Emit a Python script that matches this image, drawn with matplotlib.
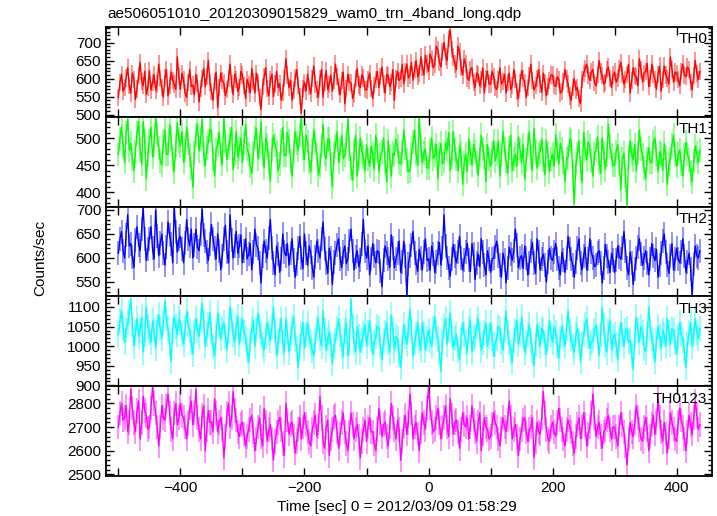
import numpy as np
import matplotlib
matplotlib.use('Agg')
import matplotlib.pyplot as plt
from matplotlib.ticker import MultipleLocator, FuncFormatter

plt.rcParams['font.family'] = ['Liberation Sans', 'DejaVu Sans']

#Light curve data, 2.5 sec bins
T_START = -500
T_BIN = 2.5

th0 = [548, 590, 612, 565, 575, 602, 630, 580, 560, 615, 598, 542, 571, 608, 645, 592, 580, 620, 556, 575,
       622, 568, 590, 610, 568, 585, 640, 600, 575, 548, 603, 625, 552, 580, 618, 595, 585, 570, 660, 605,
       570, 615, 596, 560, 548, 590, 625, 578, 582, 555, 610, 588, 535, 572, 600, 628, 578, 605, 650, 590,
       565, 540, 592, 618, 520, 575, 615, 595, 588, 552, 570, 600, 640, 585, 556, 612, 598, 565, 575, 620,
       610, 580, 545, 598, 583, 560, 628, 592, 560, 615, 590, 548, 515, 578, 605, 630, 572, 552, 598, 612,
       550, 585, 620, 575, 586, 540, 562, 600, 655, 610, 575, 595, 540, 568, 602, 625, 580, 550, 505, 572,
       590, 565, 612, 578, 558, 600, 635, 585, 570, 548, 600, 625, 548, 590, 622, 570, 584, 610, 565, 595,
       640, 605, 578, 555, 595, 618, 530, 572, 612, 590, 588, 545, 560, 600, 628, 582, 575, 610, 602, 570,
       568, 598, 615, 572, 545, 580, 598, 620, 575, 605, 632, 585, 560, 612, 608, 578, 590, 625, 540, 600,
       620, 595, 600, 640, 585, 618, 640, 602, 610, 645, 595, 625, 650, 605, 615, 660, 630, 610, 665, 640,
       620, 668, 655, 630, 640, 690, 680, 645, 632, 675, 700, 662, 650, 712, 735, 680, 660, 640, 625, 690,
       675, 630, 610, 655, 640, 602, 595, 625, 630, 590, 575, 615, 612, 580, 598, 630, 560, 600, 620, 585,
       585, 620, 605, 575, 570, 598, 630, 585, 592, 612, 560, 590, 615, 570, 580, 625, 598, 565, 545, 588,
       622, 600, 590, 548, 575, 608, 640, 595, 568, 580, 600, 625, 585, 562, 615, 590, 552, 578, 595, 610,
       610, 582, 578, 605, 598, 560, 565, 592, 625, 600, 585, 552, 540, 575, 600, 568, 575, 545, 530, 598,
       615, 628, 640, 610, 595, 618, 625, 590, 580, 612, 650, 620, 608, 585, 590, 625, 632, 600, 575, 610,
       618, 590, 600, 628, 645, 612, 585, 598, 612, 640, 560, 595, 630, 608, 605, 580, 655, 625, 590, 615,
       620, 642, 578, 600, 640, 612, 598, 570, 612, 635, 565, 598, 635, 610, 600, 585, 660, 625, 590, 618,
       615, 598, 580, 620, 640, 610, 605, 632, 625, 590, 570, 608, 650, 615, 598, 620]

th1 = [470, 498, 520, 485, 455, 510, 535, 478, 490, 462, 440, 475, 510, 530, 478, 452, 530, 495, 425, 468,
       495, 520, 465, 488, 540, 505, 482, 458, 450, 492, 515, 470, 470, 525, 500, 462, 438, 485, 528, 495,
       485, 512, 455, 478, 520, 490, 468, 445, 410, 472, 505, 525, 476, 498, 535, 470, 448, 482, 492, 515,
       515, 462, 430, 478, 488, 510, 470, 452, 538, 495, 460, 485, 498, 520, 442, 470, 512, 465, 480, 500,
       455, 490, 525, 480, 470, 448, 435, 472, 500, 518, 462, 485, 530, 470, 445, 500, 488, 455, 420, 478,
       505, 488, 475, 440, 452, 492, 520, 468, 468, 510, 495, 458, 430, 475, 512, 490, 478, 505, 540, 482,
       460, 505, 492, 455, 438, 478, 515, 490, 470, 432, 448, 485, 525, 470, 462, 498, 498, 452, 410, 470,
       485, 512, 455, 478, 505, 462, 468, 490, 535, 480, 445, 422, 478, 505, 430, 462, 500, 475, 465, 440,
       488, 462, 448, 485, 470, 442, 505, 478, 438, 468, 475, 500, 455, 420, 495, 465, 430, 472, 468, 498,
       485, 455, 452, 475, 515, 482, 460, 438, 440, 470, 492, 515, 470, 450, 538, 488, 455, 472, 480, 445,
       445, 478, 500, 462, 468, 488, 425, 470, 490, 452, 458, 492, 478, 510, 440, 465, 512, 478, 462, 440,
       485, 470, 415, 455, 470, 438, 498, 472, 450, 488, 475, 455, 432, 468, 505, 480, 465, 420, 488, 462,
       448, 472, 495, 458, 470, 495, 430, 468, 512, 480, 458, 435, 482, 505, 440, 462, 470, 448, 502, 478,
       455, 488, 425, 460, 488, 512, 465, 440, 518, 475, 445, 468, 475, 498, 460, 432, 495, 470, 438, 462,
       470, 448, 505, 478, 452, 490, 480, 455, 420, 462, 465, 498, 495, 440, 378, 452, 470, 495, 445, 418,
       510, 478, 460, 492, 485, 458, 430, 470, 478, 502, 455, 435, 500, 472, 442, 468, 525, 485, 468, 450,
       450, 475, 488, 455, 405, 462, 472, 430, 376, 465, 495, 470, 460, 488, 440, 472, 515, 480, 468, 445,
       425, 462, 482, 455, 455, 492, 500, 468, 438, 475, 470, 440, 490, 465, 415, 450, 462, 488, 505, 470,
       448, 470, 478, 452, 430, 468, 492, 470, 460, 435, 420, 458, 485, 472, 455, 478]

th2 = [610, 640, 655, 615, 600, 648, 690, 625, 630, 602, 580, 638, 665, 628, 615, 660, 705, 640, 595, 618,
       640, 665, 620, 598, 700, 645, 605, 632, 650, 610, 585, 622, 675, 648, 630, 590, 708, 655, 612, 640,
       645, 618, 590, 632, 680, 640, 625, 660, 600, 628, 660, 622, 615, 650, 702, 648, 635, 612, 595, 630,
       670, 640, 620, 598, 650, 615, 575, 605, 640, 668, 612, 590, 690, 638, 600, 625, 655, 610, 625, 648,
       590, 615, 640, 598, 608, 630, 575, 612, 660, 628, 620, 590, 548, 605, 635, 615, 600, 642, 680, 620,
       590, 565, 625, 608, 570, 598, 650, 612, 605, 630, 585, 610, 640, 595, 560, 588, 620, 645, 600, 578,
       650, 610, 585, 625, 612, 580, 560, 602, 635, 615, 600, 640, 675, 618, 590, 568, 620, 600, 545, 592,
       610, 628, 640, 598, 580, 612, 625, 588, 598, 635, 660, 615, 575, 602, 615, 582, 595, 630, 680, 615,
       600, 625, 565, 598, 630, 605, 590, 615, 612, 572, 540, 595, 625, 610, 598, 580, 648, 620, 580, 598,
       610, 635, 570, 592, 635, 605, 520, 588, 605, 628, 655, 610, 590, 572, 618, 600, 575, 612, 640, 595,
       598, 575, 625, 608, 570, 592, 610, 632, 585, 620, 690, 625, 600, 580, 562, 598, 628, 605, 590, 612,
       645, 600, 575, 595, 612, 630, 595, 572, 630, 608, 555, 590, 608, 582, 640, 612, 585, 565, 615, 598,
       570, 598, 600, 622, 635, 605, 585, 560, 610, 595, 548, 580, 622, 608, 595, 615, 660, 628, 580, 600,
       605, 578, 625, 600, 565, 590, 615, 632, 590, 568, 640, 612, 575, 598, 608, 585, 550, 592, 620, 600,
       595, 612, 630, 598, 580, 565, 612, 595, 570, 600, 645, 618, 598, 585, 560, 592, 620, 640, 590, 575,
       605, 622, 575, 598, 640, 612, 600, 582, 585, 610, 615, 590, 548, 580, 628, 605, 592, 570, 610, 595,
       570, 595, 625, 602, 598, 620, 655, 615, 580, 565, 612, 590, 545, 578, 600, 622, 640, 608, 585, 600,
       615, 590, 565, 598, 630, 605, 595, 618, 560, 585, 610, 635, 650, 612, 585, 568, 605, 630, 575, 598,
       620, 598, 590, 612, 640, 605, 570, 592, 610, 578, 520, 588, 625, 605, 600, 615]

th3 = [1030, 1065, 1090, 1045, 1010, 1040, 1060, 1085, 1120, 1055, 1000, 1035, 1070, 1025, 1040, 1075, 985, 1030, 1100, 1050,
       1035, 1010, 1065, 1040, 995, 1050, 1080, 1045, 1020, 1060, 1115, 1070, 1045, 1005, 960, 1040, 1075, 1050, 1030, 1070,
       1060, 1030, 1005, 1045, 1090, 1055, 1040, 1010, 980, 1035, 1070, 1040, 1025, 1065, 1110, 1060, 1000, 1030, 1055, 1085,
       1035, 1000, 975, 1025, 1085, 1050, 1020, 1045, 1060, 1025, 990, 1040, 1100, 1065, 1030, 1010, 1050, 1075, 1005, 1040,
       1070, 1035, 1020, 990, 960, 1010, 1045, 1065, 1000, 1040, 1085, 1050, 1030, 1005, 990, 1025, 1060, 1035, 1015, 1050,
       1100, 1040, 975, 1010, 1040, 1070, 1010, 985, 1070, 1035, 985, 1020, 1050, 1075, 1020, 995, 945, 1000, 1030, 1060,
       995, 1030, 1060, 1025, 1010, 990, 975, 1015, 1045, 1070, 1020, 1000, 1090, 1040, 990, 1020, 1035, 1005, 955, 1000,
       1015, 1045, 1070, 1030, 1000, 975, 1040, 1060, 975, 1010, 1120, 1050, 1010, 985, 1050, 1025, 985, 1015, 1030, 1055,
       1000, 1035, 1065, 1020, 980, 1010, 1025, 1050, 1045, 1000, 965, 1015, 1035, 1060, 1010, 985, 1080, 1040, 990, 1025,
       1020, 980, 945, 1000, 1055, 1025, 1005, 1040, 1095, 1045, 975, 1010, 1030, 1060, 1015, 990, 1060, 1030, 990, 1020,
       1040, 1015, 1000, 1045, 1075, 1035, 1020, 985, 935, 1010, 1050, 1070, 1005, 1040, 1085, 1030, 995, 1020, 1030, 990,
       965, 1015, 1060, 1030, 1010, 985, 1045, 1065, 985, 1020, 1025, 1050, 1070, 1030, 990, 1010, 1035, 1060, 1000, 1025,
       1060, 1020, 975, 1005, 1020, 1050, 1045, 1010, 990, 1040, 1090, 1035, 1010, 985, 960, 1015, 1040, 1065, 1005, 1030,
       1075, 1025, 985, 1010, 1030, 1055, 1015, 990, 950, 1005, 1055, 1030, 1000, 1045, 1040, 1010, 980, 1020, 1065, 1030,
       1010, 1050, 1035, 1000, 970, 1020, 1050, 1025, 1000, 1045, 1090, 1040, 1020, 1000, 985, 1030, 1045, 1015, 960, 1005,
       1030, 1055, 1070, 1025, 995, 1010, 1015, 1040, 1055, 1020, 975, 1030, 1100, 1050, 1005, 985, 1040, 1065, 990, 1025,
       1030, 1005, 965, 1020, 1060, 1030, 1000, 1040, 1045, 1010, 1015, 980, 940, 1025, 1075, 1040, 1010, 1050, 1035, 995,
       985, 1030, 1100, 1045, 1020, 1000, 960, 1015, 1050, 1025, 995, 1040, 1030, 1000, 1070, 1035, 1005, 1045, 1040, 1010,
       980, 1025, 1060, 1030, 1015, 990, 945, 1005, 1035, 1060, 1000, 1030, 1070, 1035, 1020, 1045]

th0123 = [2700, 2760, 2800, 2730, 2740, 2790, 2680, 2720, 2860, 2780, 2720, 2680, 2770, 2810, 2650, 2720, 2830, 2770, 2750, 2690,
          2700, 2780, 2870, 2800, 2760, 2700, 2620, 2700, 2790, 2740, 2730, 2790, 2840, 2760, 2690, 2650, 2760, 2800, 2710, 2740,
          2800, 2750, 2740, 2700, 2650, 2720, 2780, 2810, 2710, 2760, 2860, 2740, 2690, 2650, 2750, 2790, 2600, 2690, 2770, 2720,
          2720, 2680, 2820, 2760, 2680, 2720, 2740, 2690, 2570, 2660, 2760, 2800, 2700, 2740, 2850, 2770, 2730, 2680, 2660, 2710,
          2720, 2670, 2620, 2660, 2690, 2730, 2750, 2680, 2600, 2650, 2700, 2740, 2660, 2620, 2780, 2720, 2640, 2690, 2710, 2650,
          2560, 2640, 2680, 2720, 2740, 2690, 2630, 2580, 2800, 2730, 2670, 2710, 2720, 2660, 2590, 2640, 2690, 2740, 2650, 2700,
          2760, 2710, 2680, 2640, 2620, 2690, 2720, 2750, 2660, 2700, 2830, 2740, 2640, 2610, 2700, 2730, 2580, 2650, 2690, 2740,
          2750, 2680, 2610, 2670, 2720, 2760, 2680, 2630, 2600, 2680, 2760, 2710, 2650, 2690, 2710, 2660, 2570, 2640, 2690, 2730,
          2640, 2700, 2740, 2680, 2680, 2630, 2600, 2690, 2780, 2720, 2660, 2710, 2720, 2660, 2620, 2700, 2800, 2740, 2690, 2650,
          2730, 2690, 2560, 2640, 2700, 2750, 2670, 2720, 2840, 2760, 2650, 2700, 2720, 2670, 2600, 2680, 2760, 2720, 2690, 2780,
          2870, 2780, 2720, 2680, 2690, 2740, 2780, 2720, 2650, 2700, 2740, 2790, 2700, 2660, 2820, 2750, 2670, 2720, 2730, 2680,
          2610, 2690, 2760, 2710, 2700, 2740, 2650, 2700, 2790, 2730, 2680, 2640, 2720, 2760, 2600, 2670, 2740, 2700, 2690, 2650,
          2660, 2710, 2760, 2720, 2700, 2650, 2620, 2690, 2740, 2700, 2680, 2730, 2810, 2740, 2650, 2690, 2710, 2660, 2580, 2650,
          2690, 2730, 2740, 2680, 2640, 2690, 2700, 2740, 2570, 2640, 2720, 2680, 2670, 2740, 2850, 2760, 2690, 2650, 2640, 2700,
          2720, 2680, 2660, 2720, 2780, 2730, 2690, 2650, 2620, 2690, 2730, 2700, 2680, 2630, 2590, 2660, 2710, 2740, 2650, 2700,
          2760, 2710, 2620, 2670, 2700, 2760, 2840, 2740, 2660, 2700, 2720, 2660, 2610, 2680, 2690, 2730, 2750, 2690, 2650, 2700,
          2700, 2660, 2620, 2700, 2760, 2710, 2680, 2620, 2540, 2650, 2720, 2680, 2660, 2720, 2790, 2740, 2690, 2650, 2640, 2700,
          2740, 2690, 2600, 2660, 2710, 2750, 2670, 2720, 2820, 2740, 2680, 2640, 2720, 2670, 2590, 2660, 2760, 2720, 2690, 2650,
          2640, 2720, 2780, 2730, 2700, 2650, 2600, 2680, 2750, 2710, 2670, 2740, 2810, 2750, 2690, 2710]

#typical 1 sigma error per band
errs = [24, 22, 25, 32, 52]
bands = ['TH0', 'TH1', 'TH2', 'TH3', 'TH0123']
colors = ['#ff0000', '#00ff00', '#0000ff', '#00ffff', '#ff00ff']
ylims = [(494, 743), (374, 539), (520, 707), (898, 1127), (2493, 2873)]
ymajor = [50, 50, 50, 50, 100]
yminor = [10, 10, 10, 10, 20]
series = [th0, th1, th2, th3, th0123]

title = 'ae506051010_20120309015829_wam0_trn_4band_long.qdp'
xlabel = 'Time [sec] 0 = 2012/03/09 01:58:29'
FS = 11

W, H = 717, 516
fig = plt.figure(figsize=(W/100, H/100), dpi=100)

left, right = 106, 712
top, pan_h = 27, 89.8

axes = []
for k in range(5):
    y0 = 1 - (top + pan_h*(k+1))/H
    ax = fig.add_axes([left/W, y0, (right-left)/W, pan_h/H],
                      sharex=axes[0] if axes else None)
    axes.append(ax)

    vals = np.array(series[k], dtype=float)
    t = T_START + T_BIN*np.arange(vals.size)
    ax.vlines(t, vals - errs[k], vals + errs[k], color=colors[k], alpha=0.5, lw=1.2)
    ax.plot(t, vals, color=colors[k], lw=1.0)

    ax.set_xlim(-520, 457)
    ax.set_ylim(*ylims[k])
    ax.yaxis.set_major_locator(MultipleLocator(ymajor[k]))
    ax.yaxis.set_minor_locator(MultipleLocator(yminor[k]))
    ax.xaxis.set_major_locator(MultipleLocator(100))
    ax.tick_params(which='both', direction='in', top=True, right=True, labelsize=FS, width=1.0)
    ax.tick_params(which='major', length=6)
    ax.tick_params(which='minor', length=3)
    for sp in ax.spines.values():
        sp.set_linewidth(1.3)
    ax.text(0.992, 0.94, bands[k], transform=ax.transAxes, ha='right', va='top', fontsize=FS)
    if k < 4:
        ax.tick_params(labelbottom=False)

#label only every other x tick, like qdp
axes[-1].xaxis.set_major_formatter(FuncFormatter(
    lambda v, p: ('%d' % v).replace('-', '\u2212') if round(v) % 200 == 0 else ''))

fig.text(107/W, 1 - 14/H, title, ha='left', va='center', fontsize=FS)
fig.text(397/W, 1 - 507/H, xlabel, ha='center', va='center', fontsize=FS)
fig.text(40/W, 1 - 258/H, 'Counts/sec', ha='center', va='center', rotation=90, fontsize=FS)

plt.savefig('out.png', dpi=100)
